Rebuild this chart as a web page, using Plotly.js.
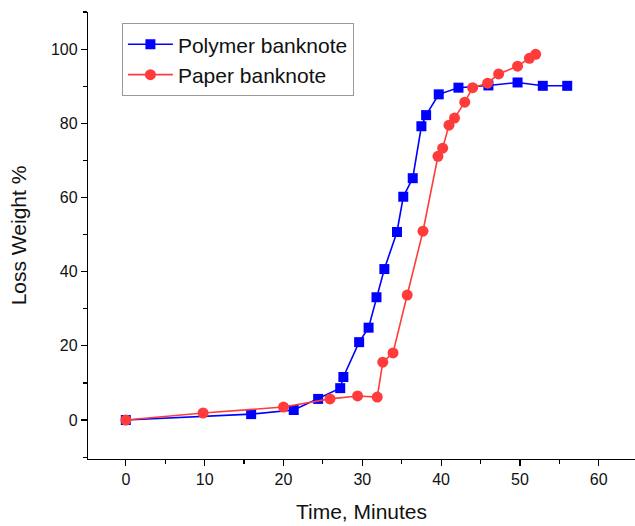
<!DOCTYPE html>
<html>
<head>
<meta charset="utf-8">
<script src="https://cdn.plot.ly/plotly-3.0.1.min.js"></script>
<style>html,body{margin:0;padding:0;background:#fff;}#chart{width:635px;height:526px;}</style>
</head>
<body>
<div id="chart"></div>
<script>
const polymerTime = [0, 15.9, 21.3, 24.4, 27.2, 27.6, 29.6, 30.8, 31.8, 32.8, 34.4, 35.2, 36.4, 37.5, 38.1, 39.7, 42.2, 46.0, 49.7, 52.9, 56.0];
const polymerLoss = [0, 1.6, 2.7, 5.7, 8.6, 11.6, 21.0, 24.9, 33.1, 40.7, 50.7, 60.2, 65.2, 79.2, 82.2, 87.8, 89.6, 90.2, 91.0, 90.1, 90.1];
const paperTime = [0, 9.8, 20.0, 25.9, 29.4, 31.9, 32.6, 33.9, 35.7, 37.7, 39.6, 40.2, 41.0, 41.7, 43.0, 44.0, 45.9, 47.3, 49.7, 51.2, 52.0];
const paperLoss = [0, 1.9, 3.5, 5.7, 6.5, 6.2, 15.6, 18.1, 33.7, 50.9, 71.1, 73.3, 79.5, 81.4, 85.7, 89.6, 90.8, 93.3, 95.4, 97.5, 98.6];
const seriesNames = ["Polymer banknote", "Paper banknote"];
const xTitle = "Time, Minutes";
const yTitle = "Loss Weight %";

const traces = [
  {x: polymerTime, y: polymerLoss, name: seriesNames[0], type: 'scatter', mode: 'lines+markers',
   line: {color: '#0000ff', width: 1.6}, marker: {symbol: 'square', size: 10, color: '#0000ff'}},
  {x: paperTime, y: paperLoss, name: seriesNames[1], type: 'scatter', mode: 'lines+markers',
   line: {color: '#ff3b3b', width: 1.6}, marker: {symbol: 'circle', size: 11, color: '#ff3b3b'}}
];

const axisCommon = {
  showline: true, linecolor: '#000', linewidth: 1.2, mirror: false,
  ticks: 'outside', ticklen: 6, tickwidth: 1.2, tickcolor: '#000',
  showgrid: false, zeroline: false,
  tickfont: {family: 'Liberation Sans, Arial, sans-serif', size: 16, color: '#111'}
};

const layout = {
  width: 635, height: 526,
  margin: {l: 88, r: 0, t: 12, b: 67},
  paper_bgcolor: '#fff', plot_bgcolor: '#fff',
  font: {family: 'Liberation Sans, Arial, sans-serif', color: '#111'},
  xaxis: Object.assign({}, axisCommon, {
    range: [-4.8, 64.6], dtick: 10, tick0: 0,
    minor: {dtick: 5, tick0: 0, ticks: 'outside', ticklen: 4, tickwidth: 1.2, tickcolor: '#000'},
    title: {text: xTitle, font: {size: 21, color: '#111'}, standoff: 16}
  }),
  yaxis: Object.assign({}, axisCommon, {
    range: [-10.5, 110], dtick: 20, tick0: 0,
    minor: {dtick: 10, tick0: 0, ticks: 'outside', ticklen: 4, tickwidth: 1.2, tickcolor: '#000'},
    title: {text: yTitle, font: {size: 21, color: '#111'}, standoff: 18}
  }),
  showlegend: true,
  legend: {
    x: 0.062, y: 0.975, xanchor: 'left', yanchor: 'top',
    bgcolor: 'rgba(255,255,255,0)', bordercolor: '#999', borderwidth: 1,
    font: {size: 21, color: '#111'}, tracegroupgap: 0, itemwidth: 45
  }
};

Plotly.newPlot('chart', traces, layout, {displayModeBar: false, staticPlot: true});
</script>
</body>
</html>
